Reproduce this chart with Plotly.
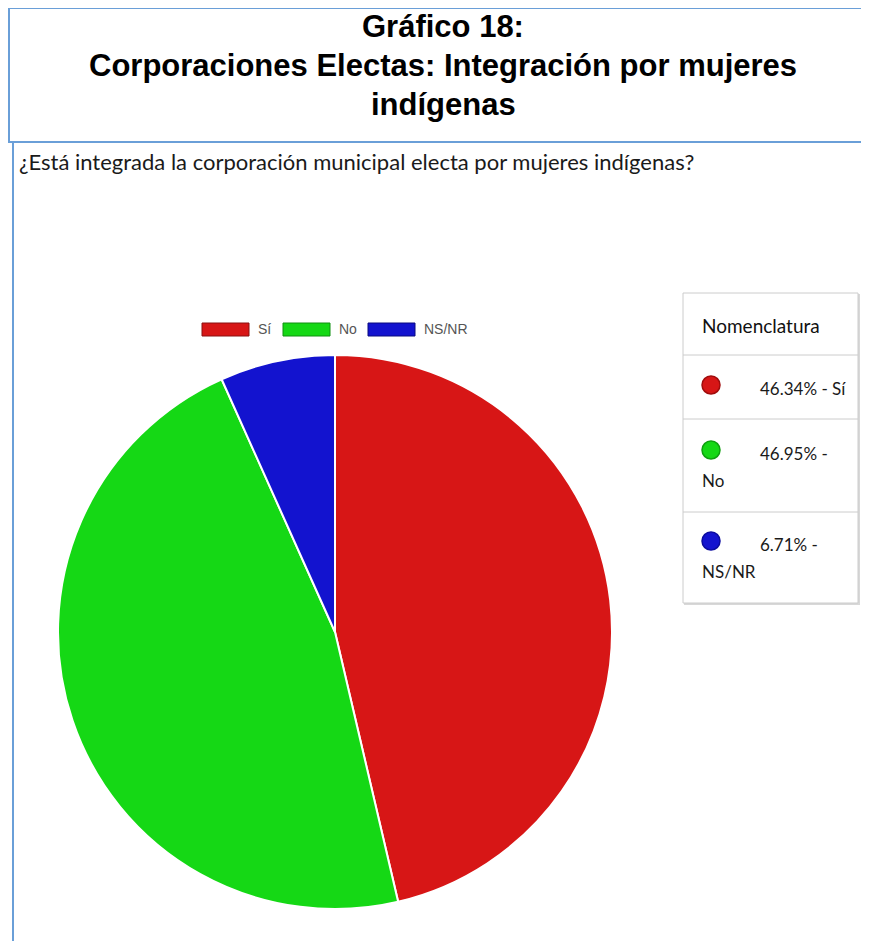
import plotly.graph_objects as go

W, H = 869, 941
OFF = 8  # page body margin

# data
labels = ["Sí", "No", "NS/NR"]
shares = [46.34, 46.95, 6.71]
colors = ["#d71616", "#15d815", "#1313cf"]

title_lines = ["Gráfico 18:", "Corporaciones Electas: Integración por mujeres", "indígenas"]
question = "¿Está integrada la corporación municipal electa por mujeres indígenas?"
box_title = "Nomenclatura"


def px_x(x):
    return (x - OFF) / W


def px_y(y):
    return 1 - (y - OFF) / H


fig = go.Figure()

cx, cy, r = 335, 632, 277
fig.add_trace(go.Pie(
    labels=labels, values=shares, sort=False, direction="clockwise", rotation=0,
    marker=dict(colors=colors, line=dict(color="white", width=2)),
    textinfo="none", hoverinfo="label+percent", showlegend=False,
    domain=dict(x=[px_x(cx - r), px_x(cx + r)], y=[px_y(cy + r), px_y(cy - r)]),
))

shapes = []
annotations = []

# header box and left rule
shapes.append(dict(type="rect", xref="paper", yref="paper",
                   x0=px_x(9), x1=px_x(885), y0=px_y(142), y1=px_y(8),
                   line=dict(color="#6a9fd8", width=2)))
shapes.append(dict(type="line", xref="paper", yref="paper",
                   x0=px_x(13), x1=px_x(13), y0=px_y(142), y1=px_y(960),
                   line=dict(color="#6a9fd8", width=2)))

for i, t in enumerate(title_lines):
    annotations.append(dict(text=f"<b>{t}</b>", x=px_x(443), y=px_y(26 + i * 39),
                            xref="paper", yref="paper", showarrow=False,
                            xanchor="center", yanchor="middle",
                            font=dict(family="Liberation Sans, Arial", size=31, color="#000")))

annotations.append(dict(text=question, x=px_x(17), y=px_y(161), xref="paper", yref="paper",
                        showarrow=False, xanchor="left", yanchor="middle",
                        font=dict(family="Lato", size=22, color="#1a1a1a")))

# top legend
lx = [202, 283, 368]
edge = ["#8a1010", "#109010", "#0a0a80"]
for x0, lab, c, e in zip(lx, labels, colors, edge):
    shapes.append(dict(type="rect", xref="paper", yref="paper",
                       x0=px_x(x0), x1=px_x(x0 + 47), y0=px_y(336), y1=px_y(323),
                       fillcolor=c, line=dict(color=e, width=1)))
    annotations.append(dict(text=lab, x=px_x(x0 + 54), y=px_y(329), xref="paper", yref="paper",
                            showarrow=False, xanchor="left", yanchor="middle",
                            font=dict(family="Liberation Sans, Arial", size=14, color="#555")))

# nomenclature box
bx0, bx1, by0, by1 = 683, 858, 293, 603
shapes.append(dict(type="rect", xref="paper", yref="paper",
                   x0=px_x(bx0 + 1), x1=px_x(bx1 + 2), y0=px_y(by1 + 2), y1=px_y(by0 + 1),
                   fillcolor="#d8d8d8", line=dict(width=0), layer="below"))
shapes.append(dict(type="rect", xref="paper", yref="paper",
                   x0=px_x(bx0), x1=px_x(bx1), y0=px_y(by1), y1=px_y(by0),
                   fillcolor="white", line=dict(color="#cccccc", width=1), layer="below"))
for yl in [355, 419, 512]:
    shapes.append(dict(type="line", xref="paper", yref="paper",
                       x0=px_x(bx0), x1=px_x(bx1), y0=px_y(yl), y1=px_y(yl),
                       line=dict(color="#cccccc", width=1)))

annotations.append(dict(text=box_title, x=px_x(700), y=px_y(325), xref="paper", yref="paper",
                        showarrow=False, xanchor="left", yanchor="middle",
                        font=dict(family="Lato", size=19, color="#111")))

row_y = [385, 450, 541]
dark = ["#a00c0c", "#0fa00f", "#0b0ba0"]
for i, (lab, s, c) in enumerate(zip(labels, shares, colors)):
    yc = row_y[i]
    shapes.append(dict(type="circle", xref="paper", yref="paper",
                       x0=px_x(702), x1=px_x(720), y0=px_y(yc + 9), y1=px_y(yc - 9),
                       fillcolor=c, line=dict(color=dark[i], width=1.5)))
    first = f"{s:.2f}% - {lab}" if i == 0 else f"{s:.2f}% -"
    annotations.append(dict(text=first, x=px_x(758), y=px_y(yc + 3),
                            xref="paper", yref="paper", showarrow=False,
                            xanchor="left", yanchor="middle",
                            font=dict(family="Lato", size=17, color="#1a1a1a")))
    if i > 0:
        annotations.append(dict(text=lab, x=px_x(700), y=px_y(yc + 30),
                                xref="paper", yref="paper", showarrow=False,
                                xanchor="left", yanchor="middle",
                                font=dict(family="Lato", size=17, color="#1a1a1a")))

fig.update_layout(
    width=W, height=H, margin=dict(l=0, r=0, t=0, b=0),
    paper_bgcolor="white", plot_bgcolor="white",
    shapes=shapes, annotations=annotations,
)

fig.write_html("out.html")
